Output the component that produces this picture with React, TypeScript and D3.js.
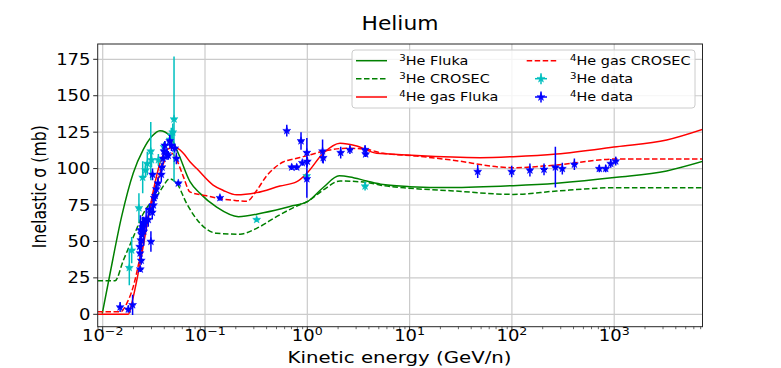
import React from 'react';
import * as d3 from 'd3';

// ---------- data ----------
const he3Fluka: [number, number][] = [
  [0.0099, 0.5], [0.0118, 28], [0.0153, 67], [0.0199, 97], [0.0249, 113], [0.0301, 122],
  [0.0363, 126], [0.0455, 122.4], [0.0548, 110.5], [0.0713, 91], [0.0894, 83], [0.13, 73.5],
  [0.212, 67], [0.372, 69.7], [0.677, 74], [1.0, 77.3], [1.43, 87], [2.05, 95], [2.61, 94.3],
  [3.8, 91.5], [5.5, 89], [10, 87.6], [25, 87], [103, 88.3], [274, 90], [1057, 94],
  [3258, 98.4], [7400, 105],
];
const he3Crosec: [number, number][] = [
  [0.0089, 23], [0.0132, 23], [0.0159, 37], [0.0199, 53], [0.0249, 69], [0.029, 76],
  [0.0337, 81], [0.0391, 88], [0.0448, 93], [0.0529, 90], [0.0662, 76], [0.0894, 62.5],
  [0.13, 55.6], [0.22, 55], [0.32, 59], [0.5, 67], [0.79, 74.3], [1.0, 77.3], [1.43, 85.3],
  [2.09, 91.5], [3.8, 90.5], [5.5, 88.3], [10, 86.5], [25, 84.8], [103, 82.3], [274, 84.6],
  [1057, 86.9], [7400, 86.9],
];
const he4Fluka: [number, number][] = [
  [0.0089, 0], [0.0178, 0], [0.0199, 12], [0.0232, 35], [0.0269, 60], [0.0313, 85],
  [0.0363, 103.6], [0.0422, 113], [0.0509, 114.6], [0.0614, 110.5], [0.0713, 104.7],
  [0.083, 100], [0.12, 88.7], [0.151, 85], [0.204, 82], [0.32, 83.5], [0.54, 88], [0.79, 91],
  [0.99, 96.8], [1.43, 110.5], [2.09, 117.4], [3.04, 115.5], [4.77, 110.5], [6.43, 110],
  [11.7, 108.9], [48.8, 107.5], [103, 108.2], [274, 110], [1057, 115], [3258, 119.6], [7400, 127],
];
const he4Crosec: [number, number][] = [
  [0.0089, 1.8], [0.015, 1.8], [0.0172, 7.5], [0.0199, 19], [0.0232, 39.5], [0.0269, 62.5],
  [0.0313, 80.7], [0.0363, 96.8], [0.0422, 108], [0.0473, 110.5], [0.0529, 106], [0.0614, 94.5],
  [0.0713, 84], [0.104, 81.3], [0.151, 79], [0.204, 78], [0.256, 77.5], [0.32, 85], [0.40, 95],
  [0.47, 100], [0.58, 104.5], [0.73, 106.5], [0.914, 108.2], [1.67, 112.8], [2.43, 114],
  [3.8, 113.2], [5.5, 110.5], [11.7, 108.6], [24.8, 106], [103, 100.6], [274, 102.5],
  [1057, 106.6], [7400, 106.6],
];

// [energy, sigma, error]
const he3Data: [number, number, number][] = [
  [0.0182, 32, 12], [0.0192, 44, 9], [0.0226, 73, 10], [0.0246, 94, 11], [0.0262, 99, 5],
  [0.0273, 103.5, 8], [0.0295, 112, 20], [0.03, 106, 5], [0.035, 106, 4], [0.0397, 115, 3],
  [0.0455, 120, 4], [0.0468, 123, 5], [0.0484, 125, 6], [0.0498, 134, 43], [0.32, 65, 1.5],
  [0.987, 95, 2], [3.67, 88, 3],
];
const he4Data: [number, number, number][] = [
  [0.0148, 5, 3.5], [0.0178, 3.5, 2.5], [0.0196, 6.5, 7], [0.0233, 31, 2], [0.0238, 37, 3],
  [0.0232, 42, 3], [0.023, 46.5, 6], [0.0236, 51, 7], [0.024, 55, 9], [0.0234, 58, 10],
  [0.0245, 60, 7], [0.0252, 57, 10], [0.0258, 62.5, 4], [0.0266, 65, 8], [0.0279, 65, 5],
  [0.0296, 50, 7], [0.0287, 72, 4], [0.0305, 70, 5], [0.0313, 75, 5], [0.0318, 80, 4],
  [0.0326, 81.5, 4], [0.0334, 86, 3], [0.0307, 96, 4], [0.0347, 90, 4], [0.0374, 96, 5],
  [0.038, 101, 3], [0.039, 107, 4], [0.0397, 112, 5], [0.0405, 116, 3], [0.0425, 110, 4],
  [0.0437, 109, 3], [0.0452, 119, 4], [0.047, 116, 4], [0.0506, 114, 3], [0.0525, 107, 4],
  [0.0548, 90, 1.5], [0.14, 80, 2], [0.63, 126, 4], [0.704, 101, 2], [0.788, 101, 2],
  [0.868, 119, 6], [0.894, 104, 2], [0.99, 111, 10], [1.0, 105, 3], [0.99, 93, 13],
  [1.41, 112, 8], [1.43, 107.5, 4], [2.12, 111, 4], [2.61, 113, 3], [3.67, 113, 3],
  [3.72, 110, 2], [46.3, 98, 4.5], [99.5, 98, 4], [150, 99, 4.5], [206, 99.5, 4],
  [266, 101, 14], [311, 100, 4], [408, 103, 4], [715, 100, 2.5], [826, 100, 2.5],
  [925, 103.5, 3], [1035, 105.2, 3],
];

const yTicks = [0, 25, 50, 75, 100, 125, 150, 175];
const xTickExps = [-2, -1, 0, 1, 2, 3];

const titleText = 'Helium';
const xLabelText = 'Kinetic energy (GeV/n)';
const yLabelText = 'Inelastic σ (mb)';

// ---------- layout ----------
const W = 781, H = 368;
const L = 97.7, R = 702.5, T = 44, B = 326.7;
const SX = 1.2;
const FONT = '"DejaVu Sans", sans-serif';

const GREEN = '#008000';
const RED = '#ff0000';
const CYAN = '#00bfbf';
const BLUE = '#0000ff';

const x = d3.scaleLog().domain([0.008935, 7295]).range([L, R]);
const y = d3.scaleLinear().domain([-8.51, 185.5]).range([B, T]);

const line = d3.line<[number, number]>()
  .x(d => x(d[0]))
  .y(d => y(d[1]))
  .curve(d3.curveMonotoneX);

const star = d3.symbol().type(d3.symbolStar).size(20)();

function SText(props: any) {
  const { x: tx, y: ty, sx = SX, anchor = 'start', size, children, ...rest } = props;
  return (
    <text
      transform={`translate(${tx},${ty}) scale(${sx},1)`}
      textAnchor={anchor}
      fontSize={size}
      fontFamily={FONT}
      fill="#000"
      {...rest}
    >
      {children}
    </text>
  );
}

function ErrPoint({ px, py, y0, y1, color, hw = 3 }: any) {
  return (
    <g>
      <line x1={px} x2={px} y1={y0} y2={y1} stroke={color} strokeWidth={1.5} />
      <line x1={px - hw} x2={px + hw} y1={py} y2={py} stroke={color} strokeWidth={1.5} />
      <path d={star as string} transform={`translate(${px},${py})`} fill={color} stroke={color} strokeWidth={0.5} />
    </g>
  );
}

export default function App() {
  const minorTicks: number[] = [];
  for (let k = -3; k <= 3; k++) {
    for (let m = 2; m <= 9; m++) {
      const v = m * Math.pow(10, k);
      if (v >= x.domain()[0] && v <= x.domain()[1]) minorTicks.push(v);
    }
  }
  const legendRows = [60.7, 78.7, 97];
  return (
    <svg width={W} height={H} style={{ position: 'absolute', left: 0, top: 0, background: '#fff' }}>
      <defs>
        <clipPath id="plotclip">
          <rect x={L} y={T} width={R - L} height={B - T} />
        </clipPath>
      </defs>
      <rect x={0} y={0} width={W} height={H} fill="#fff" />
      {/* grid */}
      <g stroke="#cbcbcb" strokeWidth={1.2}>
        {xTickExps.map(e => (
          <line key={'gx' + e} x1={x(Math.pow(10, e))} x2={x(Math.pow(10, e))} y1={T} y2={B} />
        ))}
        {yTicks.map(t => (
          <line key={'gy' + t} x1={L} x2={R} y1={y(t)} y2={y(t)} />
        ))}
      </g>
      {/* curves */}
      <g clipPath="url(#plotclip)" fill="none" strokeWidth={1.5}>
        <path d={line(he3Fluka) as string} stroke={GREEN} />
        <path d={line(he3Crosec) as string} stroke={GREEN} strokeDasharray="5.5,2.5" />
        <path d={line(he4Fluka) as string} stroke={RED} />
        <path d={line(he4Crosec) as string} stroke={RED} strokeDasharray="5.5,2.5" />
      </g>
      {/* data */}
      <g clipPath="url(#plotclip)">
        {he3Data.map((d, i) => (
          <ErrPoint key={'c' + i} px={x(d[0])} py={y(d[1])} y0={y(d[1] - d[2])} y1={y(d[1] + d[2])} color={CYAN} />
        ))}
        {he4Data.map((d, i) => (
          <ErrPoint key={'b' + i} px={x(d[0])} py={y(d[1])} y0={y(d[1] - d[2])} y1={y(d[1] + d[2])} color={BLUE} />
        ))}
      </g>
      {/* spines */}
      <rect x={L} y={T} width={R - L} height={B - T} fill="none" stroke="#262626" strokeWidth={1} />
      {/* ticks */}
      <g stroke="#262626" strokeWidth={1}>
        {xTickExps.map(e => (
          <line key={'tx' + e} x1={x(Math.pow(10, e))} x2={x(Math.pow(10, e))} y1={B} y2={B + 4.5} />
        ))}
        {minorTicks.map((v, i) => (
          <line key={'mx' + i} x1={x(v)} x2={x(v)} y1={B} y2={B + 2.5} strokeWidth={0.7} />
        ))}
        {yTicks.map(t => (
          <line key={'ty' + t} x1={L - 4.5} x2={L} y1={y(t)} y2={y(t)} />
        ))}
      </g>
      {/* tick labels */}
      {xTickExps.map(e => (
        <SText key={'lx' + e} x={x(Math.pow(10, e))} y={341} anchor="middle" size={15}>
          10<tspan fontSize={10.5} dy={-6}>{e < 0 ? '\u2212' + Math.abs(e) : String(e)}</tspan>
        </SText>
      ))}
      {yTicks.map(t => (
        <SText key={'ly' + t} x={90.5} y={y(t) + 5.5} anchor="end" size={15}>
          {String(t)}
        </SText>
      ))}
      {/* axis labels and title */}
      <SText x={399.5} y={362.5} anchor="middle" size={15.5} sx={1} textLength={224} lengthAdjust="spacingAndGlyphs">
        {xLabelText}
      </SText>
      <text
        transform={`translate(46,186.7) scale(1.22,1) rotate(-90)`}
        textAnchor="middle"
        fontSize={15.5}
        fontFamily={FONT}
        textLength={123}
        lengthAdjust="spacingAndGlyphs"
      >
        {yLabelText}
      </text>
      <SText x={400} y={29.5} anchor="middle" size={19.5} sx={1} textLength={77} lengthAdjust="spacingAndGlyphs">
        {titleText}
      </SText>
      {/* legend */}
      <rect x={352} y={50} width={343} height={58} rx={3} ry={3} fill="#fff" fillOpacity={0.8} stroke="#cccccc" strokeWidth={1} />
      <g strokeWidth={1.5} fill="none">
        <line x1={356} x2={387} y1={legendRows[0]} y2={legendRows[0]} stroke={GREEN} />
        <line x1={356} x2={387} y1={legendRows[1]} y2={legendRows[1]} stroke={GREEN} strokeDasharray="5.5,2.5" />
        <line x1={356} x2={387} y1={legendRows[2]} y2={legendRows[2]} stroke={RED} />
        <line x1={526.7} x2={557} y1={legendRows[0]} y2={legendRows[0]} stroke={RED} strokeDasharray="5.5,2.5" />
      </g>
      <ErrPoint px={541} py={legendRows[1]} y0={legendRows[1] - 5.5} y1={legendRows[1] + 5.5} color={CYAN} hw={6} />
      <ErrPoint px={541} py={legendRows[2]} y0={legendRows[2] - 5.5} y1={legendRows[2] + 5.5} color={BLUE} hw={6} />
      {[
        { lx: 399.3, row: 0, sup: '3', txt: 'He Fluka' },
        { lx: 399.3, row: 1, sup: '3', txt: 'He CROSEC' },
        { lx: 399.3, row: 2, sup: '4', txt: 'He gas Fluka' },
        { lx: 570, row: 0, sup: '4', txt: 'He gas CROSEC' },
        { lx: 570, row: 1, sup: '3', txt: 'He data' },
        { lx: 570, row: 2, sup: '4', txt: 'He data' },
      ].map((l, i) => (
        <SText key={'lg' + i} x={l.lx} y={legendRows[l.row] + 4.3} size={12}>
          <tspan fontSize={8.5} dy={-4.5}>{l.sup}</tspan>
          <tspan dy={4.5}>{l.txt}</tspan>
        </SText>
      ))}
    </svg>
  );
}
